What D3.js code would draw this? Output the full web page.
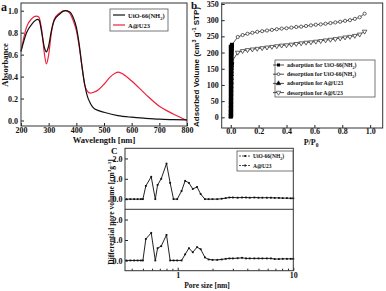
<!DOCTYPE html>
<html>
<head>
<meta charset="utf-8">
<script src="https://cdn.jsdelivr.net/npm/d3@7"></script>
<style>
  body { margin: 0; background: #fff; }
  svg text { font-family: "Liberation Serif", "DejaVu Serif", serif; font-weight: bold; fill: #111; }
  .axis path { display: none; }
  .axis line { stroke: #222; }
</style>
</head>
<body>
<div id="chart"></div>
<script>
// ---- panel a : absorbance ----
var wlBlack = [200, 220, 240, 260, 266, 275, 285, 292, 300, 310, 320, 340, 360, 375, 390, 400, 410, 420, 430, 440, 450, 460, 480, 500, 550, 600, 650, 700, 750, 800];
var absBlack = [0.63, 0.80, 0.88, 0.92, 0.91, 0.80, 0.66, 0.625, 0.68, 0.82, 0.91, 0.97, 1.0, 0.99, 0.93, 0.85, 0.70, 0.50, 0.33, 0.22, 0.16, 0.12, 0.09, 0.075, 0.045, 0.03, 0.02, 0.012, 0.008, 0.005];
var wlRed = [200, 220, 240, 255, 265, 275, 285, 292, 300, 310, 320, 340, 360, 375, 390, 400, 410, 420, 430, 440, 450, 460, 480, 500, 520, 540, 552, 570, 600, 650, 700, 750, 800];
var absRed = [0.63, 0.85, 0.93, 0.95, 0.94, 0.82, 0.60, 0.515, 0.60, 0.80, 0.92, 0.98, 1.0, 0.98, 0.90, 0.82, 0.68, 0.50, 0.33, 0.265, 0.25, 0.255, 0.28, 0.33, 0.39, 0.43, 0.44, 0.42, 0.36, 0.24, 0.13, 0.06, 0.0];
var aXTicks = [200, 300, 400, 500, 600, 700, 800];
var aYTicks = [0, 0.2, 0.4, 0.6, 0.8, 1.0];

// ---- panel b : N2 isotherms ----
var pLow = [0.0, 0.0005, 0.001, 0.0015, 0.002, 0.0025, 0.003, 0.0035, 0.004, 0.0045, 0.005, 0.0055, 0.006, 0.0065, 0.007, 0.0075, 0.008, 0.0085];
var adsUioLow = [2, 15, 30, 45, 60, 75, 90, 105, 120, 135, 150, 165, 180, 193, 204, 212, 219, 224];
var adsAuLow = [2, 12, 24, 36, 48, 60, 72, 84, 96, 108, 120, 132, 143, 152, 160, 165, 169, 172];
var pHigh = [0.05, 0.085, 0.12, 0.155, 0.19, 0.225, 0.26, 0.295, 0.33, 0.365, 0.4, 0.435, 0.47, 0.505, 0.54, 0.575, 0.61, 0.645, 0.68, 0.715, 0.75, 0.785, 0.82, 0.855, 0.89, 0.925, 0.96];
var volUio = [248, 254, 258, 261, 264, 266, 268, 270, 272, 274, 275, 277, 279, 280, 282, 284, 286, 287, 289, 291, 293, 295, 298, 300, 304, 309, 320];
var volAu = [200, 205, 208, 210, 212, 214, 216, 218, 220, 222, 223, 225, 227, 229, 231, 232, 234, 236, 238, 240, 242, 244, 247, 249, 252, 256, 265];
var bXTicks = [0, 0.2, 0.4, 0.6, 0.8, 1.0];
var bYTicks = [0, 50, 100, 150, 200, 250, 300, 350];
var bLegend = ['adsorption for UiO-66(NH', 'desorption for UiO-66(NH', 'adsorption for A@U23', 'desorption for A@U23'];

// ---- panel c : pore size distribution ----
var poreSize = [0.36, 0.39, 0.42, 0.45, 0.48, 0.50, 0.53, 0.59, 0.64, 0.67, 0.72, 0.80, 0.86, 0.92, 0.99, 1.08, 1.16, 1.25, 1.35, 1.47, 1.58, 1.72, 1.85, 2.0, 2.2, 2.4, 2.6, 2.8, 3.0, 3.3, 3.6, 3.9, 4.2, 4.6, 5.0, 5.4, 5.9, 6.4, 6.9, 7.5, 8.1, 8.8, 9.5, 10];
var pvUio = [0, 0, 0, 0, 0, 0, 0.65, 1.1, 0, 0.7, 1.0, 1.75, 0.8, 0, 0, 0.4, 0.9, 0.8, 0.5, 0.6, 0.25, 0, 0, 0, 0, 0.02, 0.05, 0.08, 0.08, 0.07, 0.08, 0.08, 0.07, 0.08, 0.07, 0.07, 0.07, 0.07, 0.06, 0.06, 0.05, 0.05, 0.04, 0.04];
var pvAu = [0, 0, 0, 0, 0, 0, 1.05, 1.35, 0, 0.6, 0.7, 1.25, 0, 0, 0, 0, 0.3, 0.6, 0.4, 0.65, 0.55, 0.15, 0.05, 0.03, 0.03, 0.05, 0.08, 0.1, 0.1, 0.11, 0.13, 0.1, 0.1, 0.1, 0.1, 0.1, 0.1, 0.1, 0.07, 0.07, 0.08, 0.08, 0.08, 0.08];
var cYTicks = [0, 1, 2];
var cXMinor = [0.4, 0.5, 0.6, 0.7, 0.8, 0.9, 2, 3, 4, 5, 6, 7, 8, 9];

var red = '#f0203c';

var svg = d3.select('#chart').append('svg')
  .attr('width', 386)
  .attr('height', 291);

svg.append('rect').attr('width', 386).attr('height', 291).attr('fill', '#fff');

function frame(x0, y0, x1, y1) {
  svg.append('rect')
    .attr('x', x0).attr('y', y0)
    .attr('width', x1 - x0).attr('height', y1 - y0)
    .attr('fill', 'none')
    .attr('stroke', '#333')
    .attr('stroke-width', 1);
}

function styleAxis(g, size) {
  g.selectAll('text').style('font-size', size + 'px');
}

// ================= panel a =================
var xA = d3.scaleLinear().domain([200, 800]).range([21, 187]);
var yA = d3.scaleLinear().domain([-0.05, 1.07]).range([126, 3]);

var axA = svg.append('g').attr('class', 'axis')
  .attr('transform', 'translate(0,126)')
  .call(d3.axisBottom(xA).tickValues(aXTicks).tickSize(-3).tickPadding(1));
styleAxis(axA, 8);
var ayA = svg.append('g').attr('class', 'axis')
  .attr('transform', 'translate(21,0)')
  .call(d3.axisLeft(yA).tickValues(aYTicks).tickSize(-3).tickFormat(d3.format('.1f')).tickPadding(3));
styleAxis(ayA, 8);

var lineA = d3.line().curve(d3.curveMonotoneX);
svg.append('path')
  .attr('d', lineA(wlRed.map(function(d, i) { return [xA(d), yA(absRed[i])]; })))
  .attr('fill', 'none').attr('stroke', red).attr('stroke-width', 1.2);
svg.append('path')
  .attr('d', lineA(wlBlack.map(function(d, i) { return [xA(d), yA(absBlack[i])]; })))
  .attr('fill', 'none').attr('stroke', '#111').attr('stroke-width', 1.2);
frame(21, 3, 187, 126);

svg.append('text').attr('x', 1).attr('y', 11).style('font-size', '12px').text('a');
svg.append('text').attr('x', 104).attr('y', 143).attr('text-anchor', 'middle')
  .style('font-size', '8.5px').text('Wavelength [nm]');
svg.append('text').attr('transform', 'translate(8,65) rotate(-90)').attr('text-anchor', 'middle')
  .style('font-size', '8.5px').text('Absorbance');

// legend a
svg.append('rect').attr('x', 110).attr('y', 9).attr('width', 58).attr('height', 22)
  .attr('fill', '#fff').attr('stroke', '#555').attr('stroke-width', 0.8);
[['#111', 15], [red, 25]].forEach(function(e) {
  svg.append('line').attr('x1', 113).attr('x2', 125).attr('y1', e[1]).attr('y2', e[1])
    .attr('stroke', e[0]).attr('stroke-width', 1.2);
});
var la = svg.append('text').attr('x', 128).attr('y', 17.5).style('font-size', '6.5px');
la.append('tspan').text('UiO-66(NH');
la.append('tspan').attr('dy', 2).style('font-size', '4.5px').text('2');
la.append('tspan').attr('dy', -2).text(')');
svg.append('text').attr('x', 128).attr('y', 27.5).style('font-size', '6.5px').text('A@U23');

// ================= panel b =================
var xB = d3.scaleLinear().domain([-0.065, 1.09]).range([221.7, 382.7]);
var yB = d3.scaleLinear().domain([-33, 353]).range([128, 3]);

var axB = svg.append('g').attr('class', 'axis')
  .attr('transform', 'translate(0,128)')
  .call(d3.axisBottom(xB).tickValues(bXTicks).tickSize(-3).tickFormat(d3.format('.1f')).tickPadding(0.5));
styleAxis(axB, 8);
var ayB = svg.append('g').attr('class', 'axis')
  .attr('transform', 'translate(221.7,0)')
  .call(d3.axisLeft(yB).tickValues(bYTicks).tickSize(-3).tickPadding(3));
styleAxis(ayB, 8);

function isoLine(ps, vs, color) {
  svg.append('path')
    .attr('d', d3.line()(ps.map(function(d, i) { return [xB(d), yB(vs[i])]; })))
    .attr('fill', 'none').attr('stroke', color).attr('stroke-width', 0.8);
}
isoLine(pLow.concat(pHigh), adsUioLow.concat(volUio), '#333');
isoLine(pLow.concat(pHigh), adsAuLow.concat(volAu), '#333');

// adsorption (filled) markers, low pressure
svg.selectAll('.adsU').data(pLow).enter().append('rect')
  .attr('x', function(d) { return xB(d) - 2; })
  .attr('y', function(d, i) { return yB(adsUioLow[i]) - 2; })
  .attr('width', 4).attr('height', 4).attr('fill', '#000');
svg.selectAll('.adsA').data(pLow).enter().append('path')
  .attr('d', d3.symbol().type(d3.symbolTriangle).size(10)())
  .attr('transform', function(d, i) { return 'translate(' + xB(d) + ',' + yB(adsAuLow[i]) + ')'; })
  .attr('fill', '#000');
// continuous black bar of the very low-pressure points
svg.append('rect').attr('x', xB(0) - 2).attr('y', yB(224)).attr('width', 4.5)
  .attr('height', yB(0) - yB(224)).attr('fill', '#000');

// high pressure markers
svg.selectAll('.desU').data(pHigh).enter().append('circle')
  .attr('cx', function(d) { return xB(d); })
  .attr('cy', function(d, i) { return yB(volUio[i]); })
  .attr('r', 1.6).attr('fill', '#fff').attr('stroke', '#222').attr('stroke-width', 0.7);
svg.selectAll('.desA').data(pHigh).enter().append('path')
  .attr('d', d3.symbol().type(d3.symbolTriangle).size(9)())
  .attr('transform', function(d, i) { return 'translate(' + xB(d) + ',' + yB(volAu[i]) + ') rotate(180)'; })
  .attr('fill', '#fff').attr('stroke', '#222').attr('stroke-width', 0.7);
frame(221.7, 3, 382.7, 128);

svg.append('text').attr('x', 191).attr('y', 9).style('font-size', '11px').text('b');
var tb = svg.append('text').attr('x', 311).attr('y', 145).attr('text-anchor', 'middle').style('font-size', '8px');
tb.append('tspan').text('P/P');
tb.append('tspan').attr('dy', 1.5).style('font-size', '5.5px').text('0');
var yt = svg.append('text').attr('transform', 'translate(199,67) rotate(-90)').attr('text-anchor', 'middle')
  .style('font-family', '"Liberation Sans", Arial, sans-serif').style('font-size', '8px');
yt.append('tspan').text('Adsorbed Volume (cm');
yt.append('tspan').attr('dy', -3).style('font-size', '5.5px').text('3');
yt.append('tspan').attr('dy', 3).text(' g');
yt.append('tspan').attr('dy', -3).style('font-size', '5.5px').text('-1');
yt.append('tspan').attr('dy', 3).text(' STP)');

// legend b
svg.append('rect').attr('x', 275).attr('y', 60).attr('width', 100).attr('height', 37)
  .attr('fill', '#fff').attr('stroke', '#555').attr('stroke-width', 0.8);
bLegend.forEach(function(t, i) {
  var y = 65 + i * 9.2;
  svg.append('line').attr('x1', 273).attr('x2', 284).attr('y1', y).attr('y2', y)
    .attr('stroke', '#222').attr('stroke-width', 0.8);
  if (i === 0) {
    svg.append('rect').attr('x', 277).attr('y', y - 1.5).attr('width', 3).attr('height', 3).attr('fill', '#000');
  } else if (i === 1) {
    svg.append('circle').attr('cx', 278.5).attr('cy', y).attr('r', 1.4).attr('fill', '#fff').attr('stroke', '#222').attr('stroke-width', 0.7);
  } else {
    svg.append('path').attr('d', d3.symbol().type(d3.symbolTriangle).size(9)())
      .attr('transform', 'translate(278.5,' + y + ')' + (i === 3 ? ' rotate(180)' : ''))
      .attr('fill', i === 2 ? '#000' : '#fff').attr('stroke', '#222').attr('stroke-width', 0.6);
  }
  var tx = svg.append('text').attr('x', 287).attr('y', y + 2).style('font-size', '5.8px');
  tx.append('tspan').text(t);
  if (i < 2) {
    tx.append('tspan').attr('dy', 1.5).style('font-size', '4px').text('2');
    tx.append('tspan').attr('dy', -1.5).text(')');
  }
});

// ================= panel c =================
var xC = d3.scaleLog().domain([0.35, 10]).range([125, 293.3]);
var yC1 = d3.scaleLinear().domain([-0.5, 2.5]).range([209.3, 148.3]);
var yC2 = d3.scaleLinear().domain([-0.5, 2.5]).range([270.7, 209.3]);

var axC = svg.append('g').attr('class', 'axis')
  .attr('transform', 'translate(0,270.7)')
  .call(d3.axisBottom(xC).tickValues([1, 10]).tickSize(-3).tickFormat(d3.format('d')).tickPadding(2));
styleAxis(axC, 8);
svg.append('g').attr('class', 'axis')
  .attr('transform', 'translate(0,270.7)')
  .call(d3.axisBottom(xC).tickValues(cXMinor).tickSize(-2).tickFormat(''));
[yC1, yC2].forEach(function(sc) {
  var g = svg.append('g').attr('class', 'axis')
    .attr('transform', 'translate(125,0)')
    .call(d3.axisLeft(sc).tickValues(cYTicks).tickSize(-3).tickPadding(2.5));
  styleAxis(g, 8);
});

function poreCurve(vals, sc) {
  svg.append('path')
    .attr('d', d3.line()(poreSize.map(function(d, i) { return [xC(d), sc(vals[i])]; })))
    .attr('fill', 'none').attr('stroke', '#222').attr('stroke-width', 1);
  svg.selectAll(null).data(poreSize).enter().append('rect')
    .attr('x', function(d) { return xC(d) - 0.9; })
    .attr('y', function(d, i) { return sc(vals[i]) - 0.9; })
    .attr('width', 1.8).attr('height', 1.8).attr('fill', '#111');
}
poreCurve(pvUio, yC1);
poreCurve(pvAu, yC2);

frame(125, 148.3, 293.3, 270.7);
svg.append('line').attr('x1', 125).attr('x2', 293.3).attr('y1', 209.3).attr('y2', 209.3)
  .attr('stroke', '#333').attr('stroke-width', 1);

svg.append('text').attr('x', 111).attr('y', 154).style('font-size', '9px').text('C');
svg.append('text').attr('x', 207).attr('y', 288).attr('text-anchor', 'middle')
  .style('font-size', '7.5px').text('Pore size [nm]');
var yc = svg.append('text').attr('transform', 'translate(114,212) rotate(-90)').attr('text-anchor', 'middle')
  .style('font-size', '7.5px');
yc.append('tspan').text('Differential pore volume [cm');
yc.append('tspan').attr('dy', -3).style('font-size', '5px').text('3');
yc.append('tspan').attr('dy', 3).text('g');
yc.append('tspan').attr('dy', -3).style('font-size', '5px').text('-1');
yc.append('tspan').attr('dy', 3).text(']');

// legend c
svg.append('rect').attr('x', 237).attr('y', 151).attr('width', 56).attr('height', 20)
  .attr('fill', '#fff').attr('stroke', '#555').attr('stroke-width', 0.8);
[156, 165.5].forEach(function(y, i) {
  svg.append('line').attr('x1', 239).attr('x2', 251).attr('y1', y).attr('y2', y)
    .attr('stroke', '#222').attr('stroke-width', 0.8).attr('stroke-dasharray', '2,1');
  svg.append('rect').attr('x', 244.2).attr('y', y - 0.9).attr('width', 1.8).attr('height', 1.8).attr('fill', '#111');
  var t = svg.append('text').attr('x', 253).attr('y', y + 2).style('font-size', '5.5px');
  if (i === 0) {
    t.append('tspan').text('UiO-66(NH');
    t.append('tspan').attr('dy', 1.5).style('font-size', '4px').text('2');
    t.append('tspan').attr('dy', -1.5).text(')');
  } else {
    t.text('A@U23');
  }
});
</script>
</body>
</html>
